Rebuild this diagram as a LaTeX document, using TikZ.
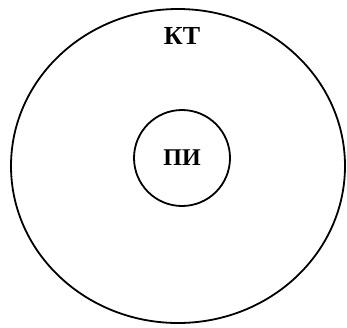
\documentclass[tikz,border=0pt]{standalone}
\usepackage{fontspec}
\setmainfont{Liberation Serif}
\usepackage{tikz}

\begin{document}
\begin{tikzpicture}[x=1pt, y=1pt, label/.style={font=\bfseries}]
        \useasboundingbox (0,0) rectangle (347,-327);
        % outer region and inner region
        \draw[line width=1.8pt] (178,-166) ellipse [x radius=167, y radius=157];
        \node[draw, circle, line width=1.8pt, minimum size=96pt, inner sep=0pt] (pi) at (182,-158) {};
        \node[label, font=\bfseries\fontsize{24}{24}\selectfont] (piname) at (pi.center) {ПИ};
        \node[label, font=\bfseries\fontsize{26}{26}\selectfont] (ktname) at (182,-36) {КТ};
    \end{tikzpicture}
\end{document}
